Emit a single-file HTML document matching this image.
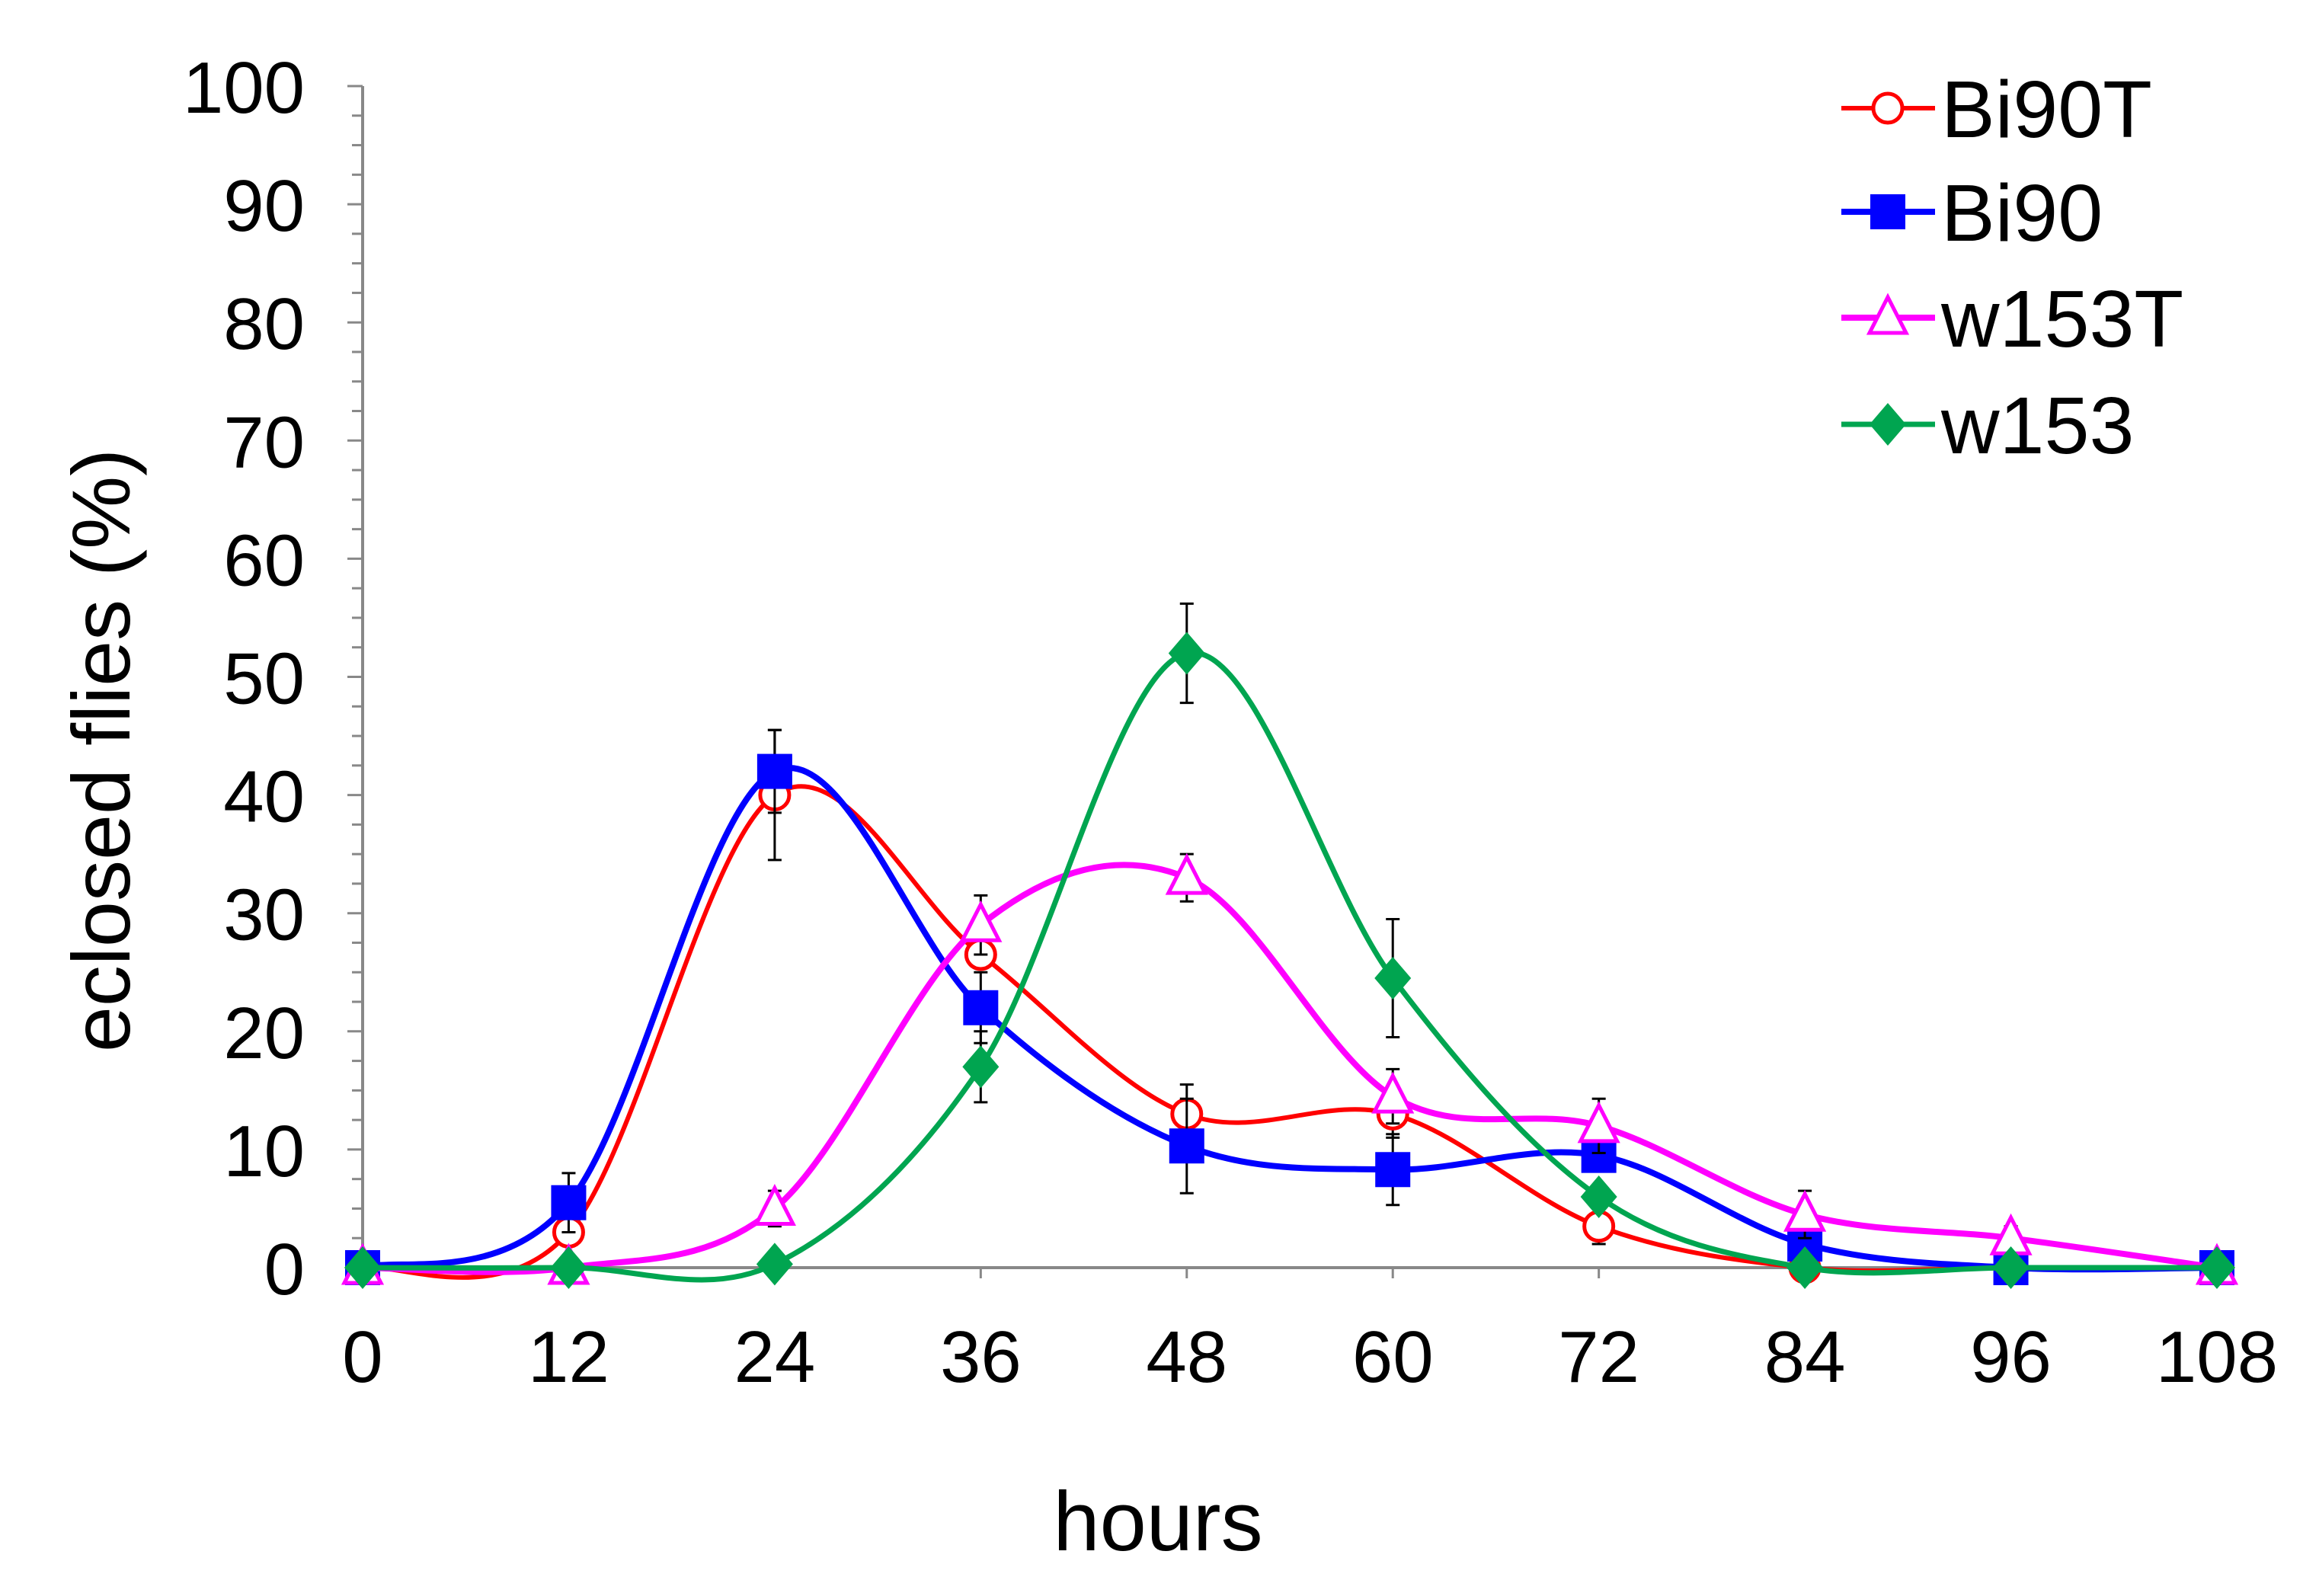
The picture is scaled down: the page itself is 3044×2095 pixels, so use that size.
<!DOCTYPE html>
<html><head><meta charset="utf-8"><style>
html,body{margin:0;padding:0;background:#fff}
svg{display:block}
text{font-family:"Liberation Sans",Arial,sans-serif;fill:#000}
</style></head><body>
<svg id="chart" width="3044" height="2095" viewBox="0 0 3044 2095" xmlns="http://www.w3.org/2000/svg">
<g id="axes"></g>
<g id="series"></g>
<g id="legend"></g>
<text x="1520" y="2035" font-size="110" text-anchor="middle">hours</text>
<text transform="translate(170,985) rotate(-90)" font-size="108" text-anchor="middle">eclosed flies (%)</text>
</svg>
<script>
const hours = [0,12,24,36,48,60,72,84,96,108];
const xTicks = ["0","12","24","36","48","60","72","84","96","108"];
const yTicks = [0,10,20,30,40,50,60,70,80,90,100];
const bi90T = [0,3,40,26.5,13,13,3.5,0,0,0];
const bi90 = [0,5.5,42,22,10.3,8.3,9.5,2,0,0];
const w153T = [0,0,5,29,33,14.5,12,4.5,2.5,0];
const w153 = [0,0,0.3,17,52,24.5,6,0,0,0];
const bi90TErr = [0,0,5.5,0,2.5,2,1.5,0,0,0];
const bi90Err = [0,2.5,3.5,3,4,3,0,0,0,0];
const w153TErr = [0,0,1.5,2.5,2,2.3,2.3,2,1,0];
const w153Err = [0,0,0,3,4.2,5,0,0,0,0];
const names = ["Bi90T","Bi90","w153T","w153"];

const X0=476, X1=2910, Y0=1664, Y1=113;
const xs = v => X0 + (v/108)*(X1-X0);
const ys = v => Y0 - (v/100)*(Y0-Y1);
const NS="http://www.w3.org/2000/svg";
function mk(tag, attrs, parent){const e=document.createElementNS(NS,tag);for(const k in attrs)e.setAttribute(k,attrs[k]);parent.appendChild(e);return e;}
const axes=document.getElementById('axes'), ser=document.getElementById('series'), leg=document.getElementById('legend');

let yl=mk('line',{x1:X0,y1:Y1,x2:X0,y2:Y0,stroke:'#888','stroke-width':4},axes);


let xl=mk('line',{x1:X0,y1:Y0,x2:X1,y2:Y0,stroke:'#888','stroke-width':4},axes);


for(let v=0;v<=100;v+=2.5){
  const major = v%10===0;
  let t=mk('line',{x1:X0-(major?20:14),y1:ys(v),x2:X0,y2:ys(v),stroke:'#888','stroke-width':3},axes);
  
  
}
yTicks.forEach(v=>{
  let t=mk('text',{x:X0-76,y:ys(v)+35,'font-size':96,'text-anchor':'end'},axes);
  t.textContent=v;
  
  
});
hours.forEach((h,i)=>{
  let tk=mk('line',{x1:xs(h),y1:Y0,x2:xs(h),y2:Y0+14,stroke:'#888','stroke-width':3},axes);
  
  
  let t=mk('text',{x:xs(h),y:Y0+150,'font-size':96,'text-anchor':'middle'},axes);
  t.textContent=xTicks[i];
  
  
});

function smoothPath(vals){
  const p=vals.map((v,i)=>[xs(hours[i]),ys(v)]);
  let d=`M${p[0][0]},${p[0][1]}`;
  for(let i=0;i<p.length-1;i++){
    const a=p[Math.max(0,i-1)],b=p[i],c=p[i+1],e=p[Math.min(p.length-1,i+2)];
    const k=1/6;
    d+=` C${b[0]+(c[0]-a[0])*k},${b[1]+(c[1]-a[1])*k} ${c[0]-(e[0]-b[0])*k},${c[1]-(e[1]-b[1])*k} ${c[0]},${c[1]}`;
  }
  return d;
}
function marker(type,x,y,color,parent){
  const s=23;let m;
  if(type==='circle') m=mk('circle',{cx:x,cy:y,r:19,fill:'#fff',stroke:color,'stroke-width':5},parent);
  else if(type==='square') m=mk('rect',{x:x-s,y:y-s,width:2*s,height:2*s,fill:color},parent);
  else if(type==='triangle') m=mk('polygon',{points:`${x},${y-27} ${x+24},${y+20} ${x-24},${y+20}`,fill:'#fff',stroke:color,'stroke-width':5},parent);
  else m=mk('polygon',{points:`${x},${y-28} ${x+24},${y} ${x},${y+28} ${x-24},${y}`,fill:color},parent);
  return m;
}
const specs=[
  {vals:bi90T,err:bi90TErr,color:'#ff0000',w:6,m:'circle',key:'bi90t'},
  {vals:bi90,err:bi90Err,color:'#0000ff',w:8,m:'square',key:'bi90'},
  {vals:w153T,err:w153TErr,color:'#ff00ff',w:8,m:'triangle',key:'w153t'},
  {vals:w153,err:w153Err,color:'#00a550',w:7,m:'diamond',key:'w153'}
];
specs.forEach(s=>{
  const g=mk('g',{},ser);
  
  
  const ln=mk('path',{d:smoothPath(s.vals),fill:'none',stroke:s.color,'stroke-width':s.w},g);
  
  
  s.vals.forEach((v,i)=>{
    if(s.err[i]>0){
      const x=xs(hours[i]),a=ys(v+s.err[i]),b=ys(v-s.err[i]);
      const eb=mk('path',{d:`M${x},${a}V${b}M${x-9},${a}H${x+9}M${x-9},${b}H${x+9}`,stroke:'#000','stroke-width':3,fill:'none'},g);
      
      
    }
  });
  s.vals.forEach((v,i)=>{
    const m=marker(s.m,xs(hours[i]),ys(v),s.color,g);
    
    
  });
});
const legY=[142,278,417,557];
specs.forEach((s,i)=>{
  const g=mk('g',{},leg);
  
  
  mk('line',{x1:2417,y1:legY[i],x2:2540,y2:legY[i],stroke:s.color,'stroke-width':s.w},g);
  marker(s.m,2478,legY[i],s.color,g);
  const t=mk('text',{x:2548,y:legY[i]+38,'font-size':106},g);
  t.textContent=names[i];
});
</script>
</body></html>
